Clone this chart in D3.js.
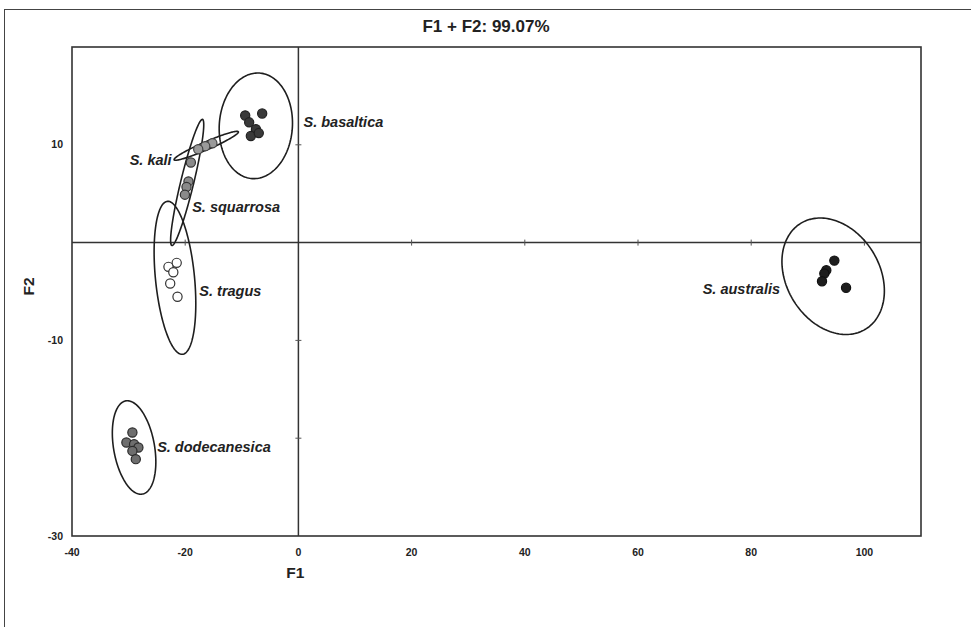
<!DOCTYPE html>
<html>
<head>
<meta charset="utf-8">
<script src="https://cdn.jsdelivr.net/npm/d3@7"></script>
<style>
  html, body { margin: 0; padding: 0; background: #fff; }
  svg { display: block; }
  text { font-family: "Liberation Sans", Arial, sans-serif; fill: #222; }
</style>
</head>
<body>
<svg id="chart" width="971" height="627"></svg>
<script>
// Discriminant scores (F1, F2) of each specimen, grouped by species
const speciesNames = ["S. basaltica", "S. kali", "S. squarrosa", "S. tragus", "S. dodecanesica", "S. australis"];

const basalticaScores = [[-9.4, 13.0], [-6.4, 13.2], [-8.7, 12.3], [-7.5, 11.6], [-8.4, 10.9], [-7.0, 11.2]];
const kaliScores = [[-15.2, 10.16], [-16.46, 9.86], [-17.7, 9.54]];
const squarrosaScores = [[-19.0, 8.19], [-19.42, 6.26], [-19.77, 5.68], [-20.05, 4.9]];
const tragusScores = [[-21.5, -2.07], [-22.96, -2.48], [-22.1, -3.03], [-22.65, -4.18], [-21.36, -5.54]];
const dodecanesicaScores = [[-29.33, -19.42], [-30.39, -20.44], [-29.03, -20.61], [-28.27, -20.95], [-29.33, -21.3], [-28.73, -22.14]];
const australisScores = [[94.69, -1.84], [93.27, -2.83], [92.92, -3.16], [92.51, -3.95], [96.76, -4.62]];

// Confidence ellipses: centre and two conjugate semi-axis vectors, in score units
const ellipseCentres = [[-7.52, 11.94], [-16.28, 9.90], [-19.65, 6.15], [-21.81, -3.60], [-29.03, -20.95], [94.48, -3.44]];
const ellipseAxisA = [[0.655, 5.395], [5.676, 1.430], [2.705, 6.447], [-1.33, 7.82], [-1.457, 4.763], [-5.677, 5.426]];
const ellipseAxisB = [[6.444, -0.26], [0.283, -0.374], [1.118, -0.156], [3.434, 0.194], [3.556, 0.361], [7.047, 2.451]];

// Tick values
const xTicks = [-40, -20, 0, 20, 40, 60, 80, 100];
const yTicks = [-30, -10, 10];
const axisMarksX = [-20, 20, 40, 60, 80, 100];
const axisMarksY = [-20, -10, 10];

const titleText = "F1 + F2: 99.07%";

// ---- layout ----
const plot = { left: 72, right: 921, top: 47, bottom: 536 };

const x = d3.scaleLinear().domain([-40, 110]).range([plot.left, plot.right]);
const y = d3.scaleLinear().domain([-30, 20]).range([plot.bottom, plot.top]);

const groups = [
  { scores: basalticaScores, fill: "#3a3a3a", stroke: "#222" },
  { scores: kaliScores, fill: "#9a9a9a", stroke: "#444" },
  { scores: squarrosaScores, fill: "#8a8a8a", stroke: "#333" },
  { scores: tragusScores, fill: "#ffffff", stroke: "#333" },
  { scores: dodecanesicaScores, fill: "#6e6e6e", stroke: "#2a2a2a" },
  { scores: australisScores, fill: "#1e1e1e", stroke: "#111" }
];

// Label anchor points in score units
const labelSpots = [
  { at: [0.9, 12.35], anchor: "start" },
  { at: [-22.4, 8.47], anchor: "end" },
  { at: [-18.76, 3.67], anchor: "start" },
  { at: [-17.5, -4.9], anchor: "start" },
  { at: [-24.96, -20.92], anchor: "start" },
  { at: [85.1, -4.69], anchor: "end" }
];

const svg = d3.select("#chart");

// outer frame
svg.append("rect")
  .attr("x", 4.5).attr("y", 9.5)
  .attr("width", 1000).attr("height", 700)
  .attr("fill", "none").attr("stroke", "#444").attr("stroke-width", 1);

// title
svg.append("text")
  .attr("x", 486).attr("y", 32)
  .attr("text-anchor", "middle")
  .attr("font-size", 17).attr("font-weight", "bold")
  .text(titleText);

// plot frame
svg.append("rect")
  .attr("x", plot.left).attr("y", plot.top)
  .attr("width", plot.right - plot.left).attr("height", plot.bottom - plot.top)
  .attr("fill", "none").attr("stroke", "#333").attr("stroke-width", 1.6);

// zero lines
svg.append("line")
  .attr("x1", x(0)).attr("x2", x(0)).attr("y1", plot.top).attr("y2", plot.bottom)
  .attr("stroke", "#333").attr("stroke-width", 1.5);
svg.append("line")
  .attr("x1", plot.left).attr("x2", plot.right).attr("y1", y(0)).attr("y2", y(0))
  .attr("stroke", "#333").attr("stroke-width", 1.5);

// tick marks on the zero lines
svg.append("g").selectAll("line").data(axisMarksX).join("line")
  .attr("x1", d => x(d)).attr("x2", d => x(d))
  .attr("y1", y(0) - 3).attr("y2", y(0) + 3)
  .attr("stroke", "#555").attr("stroke-width", 1);
svg.append("g").selectAll("line").data(axisMarksY).join("line")
  .attr("x1", x(0) - 3).attr("x2", x(0) + 3)
  .attr("y1", d => y(d)).attr("y2", d => y(d))
  .attr("stroke", "#555").attr("stroke-width", 1);

// tick labels
svg.append("g").selectAll("text").data(xTicks).join("text")
  .attr("x", d => x(d)).attr("y", 556)
  .attr("text-anchor", "middle")
  .attr("font-size", 10.5).attr("font-weight", "bold")
  .text(d => d);
svg.append("g").selectAll("text").data(yTicks).join("text")
  .attr("x", 63).attr("y", d => y(d))
  .attr("dy", "0.35em")
  .attr("text-anchor", "end")
  .attr("font-size", 10.5).attr("font-weight", "bold")
  .text(d => d);

// axis titles
svg.append("text")
  .attr("x", x(0) - 3).attr("y", 578)
  .attr("text-anchor", "middle")
  .attr("font-size", 15.5).attr("font-weight", "bold")
  .text("F1");
svg.append("text")
  .attr("transform", `translate(34, ${(plot.top + plot.bottom) / 2 - 5}) rotate(-90)`)
  .attr("text-anchor", "middle")
  .attr("font-size", 15.5).attr("font-weight", "bold")
  .text("F2");

// confidence ellipses
const steps = d3.range(0, 2 * Math.PI + 0.001, Math.PI / 90);
const ellipseLine = d3.line().x(p => x(p[0])).y(p => y(p[1])).curve(d3.curveLinearClosed);
svg.append("g").selectAll("path").data(ellipseCentres).join("path")
  .attr("d", (c, i) => ellipseLine(steps.map(t => [
    c[0] + Math.cos(t) * ellipseAxisA[i][0] + Math.sin(t) * ellipseAxisB[i][0],
    c[1] + Math.cos(t) * ellipseAxisA[i][1] + Math.sin(t) * ellipseAxisB[i][1]
  ])))
  .attr("fill", "none").attr("stroke", "#1e1e1e").attr("stroke-width", 1.6);

// specimen points
groups.forEach(g => {
  svg.append("g").selectAll("circle").data(g.scores).join("circle")
    .attr("cx", d => x(d[0])).attr("cy", d => y(d[1]))
    .attr("r", 4.6)
    .attr("fill", g.fill).attr("stroke", g.stroke).attr("stroke-width", 1.2);
});

// species labels
svg.append("g").selectAll("text").data(speciesNames).join("text")
  .attr("x", (d, i) => x(labelSpots[i].at[0]))
  .attr("y", (d, i) => y(labelSpots[i].at[1]))
  .attr("dy", "0.35em")
  .attr("text-anchor", (d, i) => labelSpots[i].anchor)
  .attr("font-size", 14.5).attr("font-weight", "bold").attr("font-style", "italic")
  .text(d => d);
</script>
</body>
</html>
